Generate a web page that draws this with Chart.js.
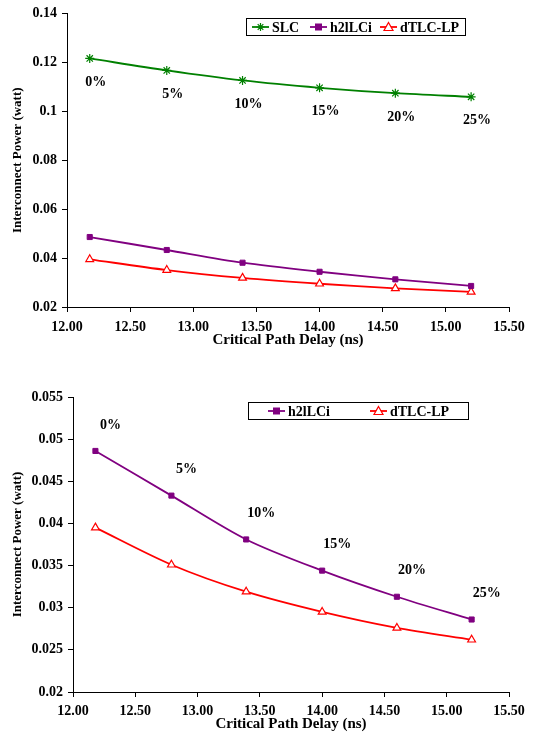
<!DOCTYPE html>
<html>
<head>
<meta charset="utf-8">
<script src="https://cdn.jsdelivr.net/npm/chart.js@4.4.0/dist/chart.umd.min.js"></script>
<style>
  html, body { margin: 0; padding: 0; background: #fff; }
  .box { position: absolute; left: 0; width: 541px; }
  #top { top: 0; height: 350px; }
  #bottom { top: 380px; height: 353px; }
</style>
</head>
<body>
<div class="box" id="top"><canvas id="chartTop" width="541" height="350"></canvas></div>
<div class="box" id="bottom"><canvas id="chartBottom" width="541" height="353"></canvas></div>
<script>
// data
const delays = [12.18, 12.79, 13.39, 14.00, 14.60, 15.20];
const pctLabels = ['0%', '5%', '10%', '15%', '20%', '25%'];
const slcPower = [0.1216, 0.1167, 0.1126, 0.1096, 0.1074, 0.1059];
const h2lPower = [0.0486, 0.0433, 0.0381, 0.0344, 0.0313, 0.0286];
const dtlcPower = [0.0395, 0.0351, 0.0319, 0.0295, 0.0276, 0.0262];

const SERIF = '"Liberation Serif", "Times New Roman", serif';
const GREEN = '#008000', PURPLE = '#800080', RED = '#ff0000';

const toXY = (ys) => ys.map((y, i) => ({ x: delays[i], y: y }));

const slcSet = () => ({
    label: 'SLC', data: toXY(slcPower), borderColor: GREEN, backgroundColor: GREEN,
    borderWidth: 1.8, pointStyle: 'star', pointRadius: 4.5, pointBorderWidth: 1.2, tension: 0.3
});
const h2lSet = () => ({
    label: 'h2lLCi', data: toXY(h2lPower), borderColor: PURPLE, backgroundColor: PURPLE,
    borderWidth: 1.8, pointStyle: 'rect', pointRadius: 3.6, pointBorderWidth: 1, tension: 0.3
});
const dtlcSet = () => ({
    label: 'dTLC-LP', data: toXY(dtlcPower), borderColor: RED, backgroundColor: '#fff',
    borderWidth: 1.8, pointStyle: 'triangle', pointRadius: 4.5, pointBorderWidth: 1.2, tension: 0.3
});

// small marker painter used by the legend box
function drawMarker(ctx, style, color, fill, x, y) {
    ctx.save();
    ctx.strokeStyle = color;
    ctx.lineWidth = 1.2;
    if (style === 'star') {
        const r = 4;
        ctx.beginPath();
        ctx.moveTo(x - r, y); ctx.lineTo(x + r, y);
        ctx.moveTo(x, y - r); ctx.lineTo(x, y + r);
        ctx.moveTo(x - r * 0.7, y - r * 0.7); ctx.lineTo(x + r * 0.7, y + r * 0.7);
        ctx.moveTo(x - r * 0.7, y + r * 0.7); ctx.lineTo(x + r * 0.7, y - r * 0.7);
        ctx.stroke();
    } else if (style === 'rect') {
        ctx.fillStyle = color;
        ctx.fillRect(x - 3.5, y - 3.5, 7, 7);
    } else if (style === 'triangle') {
        ctx.fillStyle = fill;
        ctx.beginPath();
        ctx.moveTo(x, y - 4.5); ctx.lineTo(x + 4.5, y + 3.5); ctx.lineTo(x - 4.5, y + 3.5);
        ctx.closePath();
        ctx.fill(); ctx.stroke();
    }
    ctx.restore();
}

const boxLegend = {
    id: 'boxLegend',
    afterDraw(chart, args, opts) {
        const ctx = chart.ctx;
        ctx.save();
        ctx.strokeStyle = '#000';
        ctx.lineWidth = 1;
        ctx.strokeRect(opts.left + 0.5, opts.top + 0.5, opts.width, opts.height);
        const cy = opts.top + opts.height / 2 + 0.5;
        ctx.font = 'bold 14px ' + SERIF;
        ctx.textBaseline = 'middle';
        chart.data.datasets.forEach((ds, i) => {
            const x0 = opts.items[i];
            ctx.strokeStyle = ds.borderColor;
            ctx.lineWidth = 1.8;
            ctx.beginPath();
            ctx.moveTo(x0, cy); ctx.lineTo(x0 + 17, cy);
            ctx.stroke();
            drawMarker(ctx, ds.pointStyle, ds.borderColor, ds.backgroundColor, x0 + 8.5, cy);
            ctx.fillStyle = '#000';
            ctx.fillText(ds.label, x0 + 20, cy + 1);
        });
        ctx.restore();
    }
};

const pctText = {
    id: 'pctText',
    afterDatasetsDraw(chart, args, opts) {
        const meta = chart.getDatasetMeta(opts.datasetIndex);
        const ctx = chart.ctx;
        ctx.save();
        ctx.font = 'bold 14px ' + SERIF;
        ctx.fillStyle = '#000';
        ctx.textAlign = 'center';
        ctx.textBaseline = 'middle';
        meta.data.forEach((pt, i) => {
            ctx.fillText(pctLabels[i], pt.x + opts.dx, pt.y + opts.dy);
        });
        ctx.restore();
    }
};

function makeChart(canvasId, datasets, yCfg, lay) {
    const ctx = document.getElementById(canvasId).getContext('2d');
    return new Chart(ctx, {
        type: 'line',
        data: { datasets: datasets },
        options: {
            responsive: false,
            animation: false,
            layout: { padding: lay.padding },
            plugins: {
                legend: { display: false },
                tooltip: { enabled: false },
                boxLegend: lay.legend,
                pctText: lay.pct
            },
            scales: {
                x: {
                    type: 'linear', min: 12, max: 15.5,
                    afterFit: (s) => { s.height = lay.xHeight; },
                    ticks: {
                        stepSize: 0.5, color: '#000', padding: lay.xTickPad,
                        font: { family: SERIF, size: 14, weight: 'bold' },
                        maxRotation: 0, autoSkip: false,
                        callback: (v) => Number(v).toFixed(2)
                    },
                    grid: { drawOnChartArea: false, drawTicks: true, tickLength: 5, color: '#000' },
                    border: { color: '#000', width: 1 },
                    title: {
                        display: true, text: 'Critical Path Delay (ns)', color: '#000',
                        font: { family: SERIF, size: 15, weight: 'bold' },
                        padding: { top: 0, bottom: lay.xTitlePad }
                    }
                },
                y: {
                    min: yCfg.min, max: yCfg.max,
                    afterFit: (s) => { s.width = lay.yWidth; },
                    ticks: {
                        stepSize: yCfg.step, color: '#000', padding: 5,
                        font: { family: SERIF, size: 14, weight: 'bold' },
                        callback: (v) => String(parseFloat(Number(v).toFixed(4)))
                    },
                    grid: { drawOnChartArea: false, drawTicks: true, tickLength: 5, color: '#000' },
                    border: { color: '#000', width: 1 },
                    title: {
                        display: true, text: 'Interconnect Power (watt)', color: '#000',
                        font: { family: SERIF, size: 13, weight: 'bold' },
                        padding: { top: 0, bottom: 0 }
                    }
                }
            }
        },
        plugins: [boxLegend, pctText]
    });
}

makeChart('chartTop', [slcSet(), h2lSet(), dtlcSet()],
    { min: 0.02, max: 0.14, step: 0.02 },
    {
        padding: { left: 10, top: 13, right: 32, bottom: 0 },
        yWidth: 57, xHeight: 43, xTickPad: 7, xTitlePad: 1,
        legend: { left: 246, top: 18, width: 219, height: 17, items: [252, 310, 380] },
        pct: { datasetIndex: 0, dx: 6, dy: 24 }
    });

makeChart('chartBottom', [h2lSet(), dtlcSet()],
    { min: 0.02, max: 0.055, step: 0.005 },
    {
        padding: { left: 10, top: 17, right: 32, bottom: 0 },
        yWidth: 63, xHeight: 41, xTickPad: 6, xTitlePad: 0,
        legend: { left: 248, top: 22, width: 220, height: 17, items: [268, 370] },
        pct: { datasetIndex: 0, dx: 15, dy: -26 }
    });
</script>
</body>
</html>
